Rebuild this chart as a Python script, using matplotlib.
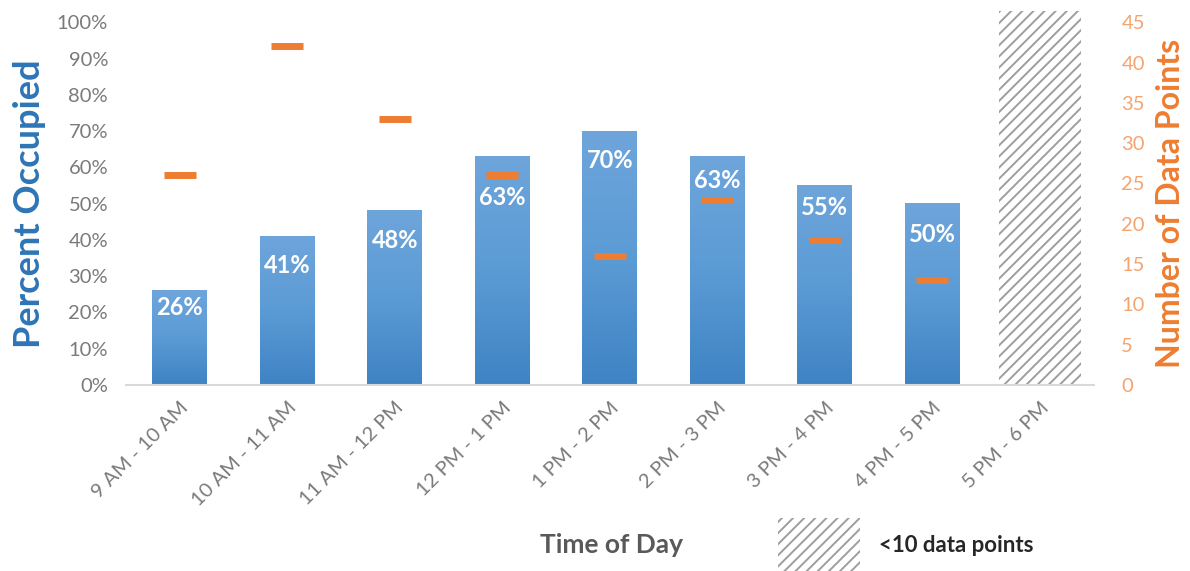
import numpy as np
import matplotlib.pyplot as plt
import matplotlib.transforms as mtransforms
from matplotlib.colors import LinearSegmentedColormap
from matplotlib.patches import Rectangle

plt.rcParams['font.family'] = ['Lato', 'DejaVu Sans']
plt.rcParams['hatch.color'] = '#9E9E9E'
plt.rcParams['hatch.linewidth'] = 1.4

# data
slots = ['9 AM - 10 AM', '10 AM - 11 AM', '11 AM - 12 PM', '12 PM - 1 PM',
         '1 PM - 2 PM', '2 PM - 3 PM', '3 PM - 4 PM', '4 PM - 5 PM', '5 PM - 6 PM']
occupied = [0.26, 0.41, 0.48, 0.63, 0.70, 0.63, 0.55, 0.50]
n_points = [26, 42, 33, 26, 16, 23, 18, 13]
sparse_height = 1.03   # hatched bar for the <10 data points slot

# how far below the bar top each label sits (pixels)
label_drop = [17, 29, 30, 41, 29, 24, 22, 31]

blue_dark = '#2E75B6'
orange = '#ED7D31'
grey = '#7A7A7A'
hatch_grey = '#9E9E9E'

fig = plt.figure(figsize=(11.9, 5.71), dpi=100)
ax = fig.add_axes([0.106, 0.326, 0.813, 0.635])
x = np.arange(len(slots))
w = 0.51

cmap = LinearSegmentedColormap.from_list('bar', ['#3F83C4', '#5B9BD5', '#6EA5DB'])
grad = np.linspace(0, 1, 256).reshape(-1, 1)
bars = ax.bar(x[:len(occupied)], occupied, width=w, color='none', zorder=2)
for b, d in zip(bars, label_drop):
    ax.imshow(grad, extent=[b.get_x(), b.get_x() + b.get_width(), 0, b.get_height()],
              origin='lower', aspect='auto', cmap=cmap, zorder=2)
    ax.annotate(f'{b.get_height():.0%}', (b.get_x() + b.get_width() / 2, b.get_height()),
                xytext=(0, -d), textcoords='offset pixels', ha='center', va='center',
                color='white', fontweight='bold', fontsize=17, zorder=3)

ax.bar(x[-1], sparse_height, width=0.76, facecolor='white', hatch='///',
       edgecolor=hatch_grey, linewidth=0, clip_on=False, zorder=2)

ax.set_xlim(-0.5, len(slots) - 0.5)
ax.set_ylim(0, 1.0)
ax.set_yticks(np.arange(0, 1.01, 0.1))
ax.set_yticklabels([f'{int(round(t * 100))}%' for t in np.arange(0, 1.01, 0.1)])
ax.set_xticks(x)
ax.set_xticklabels(slots, rotation=45, ha='right', rotation_mode='anchor')
shift = mtransforms.ScaledTranslation(-7 / 100, 0, fig.dpi_scale_trans)
for lab in ax.get_xticklabels():
    lab.set_transform(lab.get_transform() + shift)
ax.tick_params(axis='both', length=0, colors=grey, labelsize=14.5)
ax.tick_params(axis='x', pad=10, labelsize=14.5)
ax.tick_params(axis='y', pad=13)
for s in ['top', 'right', 'left']:
    ax.spines[s].set_visible(False)
ax.spines['bottom'].set_color('#D9D9D9')
ax.spines['bottom'].set_linewidth(1.5)
ax.set_ylabel('Percent Occupied', color=blue_dark, fontsize=26, fontweight='bold', labelpad=8)

ax2 = ax.twinx()
ax2.plot(x[:len(n_points)], n_points, linestyle='none', marker='_', markersize=23,
         markeredgewidth=5, color=orange, zorder=4)
ax2.set_ylim(0, 45)
ax2.set_yticks(np.arange(0, 46, 5))
ax2.tick_params(axis='y', length=0, colors='#F4A46E', labelsize=14.5, pad=20)
for s in ax2.spines.values():
    s.set_visible(False)
ax2.set_ylabel('Number of Data Points', color=orange, fontsize=23, fontweight='bold',
               labelpad=8)

fig.text(0.514, 0.045, 'Time of Day', ha='center', va='center', color='#595959',
         fontsize=19, fontweight='bold')
fig.patches.append(Rectangle((0.654, 0.0), 0.069, 0.093, transform=fig.transFigure,
                             facecolor='white', edgecolor=hatch_grey, linewidth=0,
                             hatch='///'))
fig.text(0.739, 0.045, '<10 data points', ha='left', va='center', color='#262626',
         fontsize=16, fontweight='bold')

fig.savefig('out.png', dpi=100)
